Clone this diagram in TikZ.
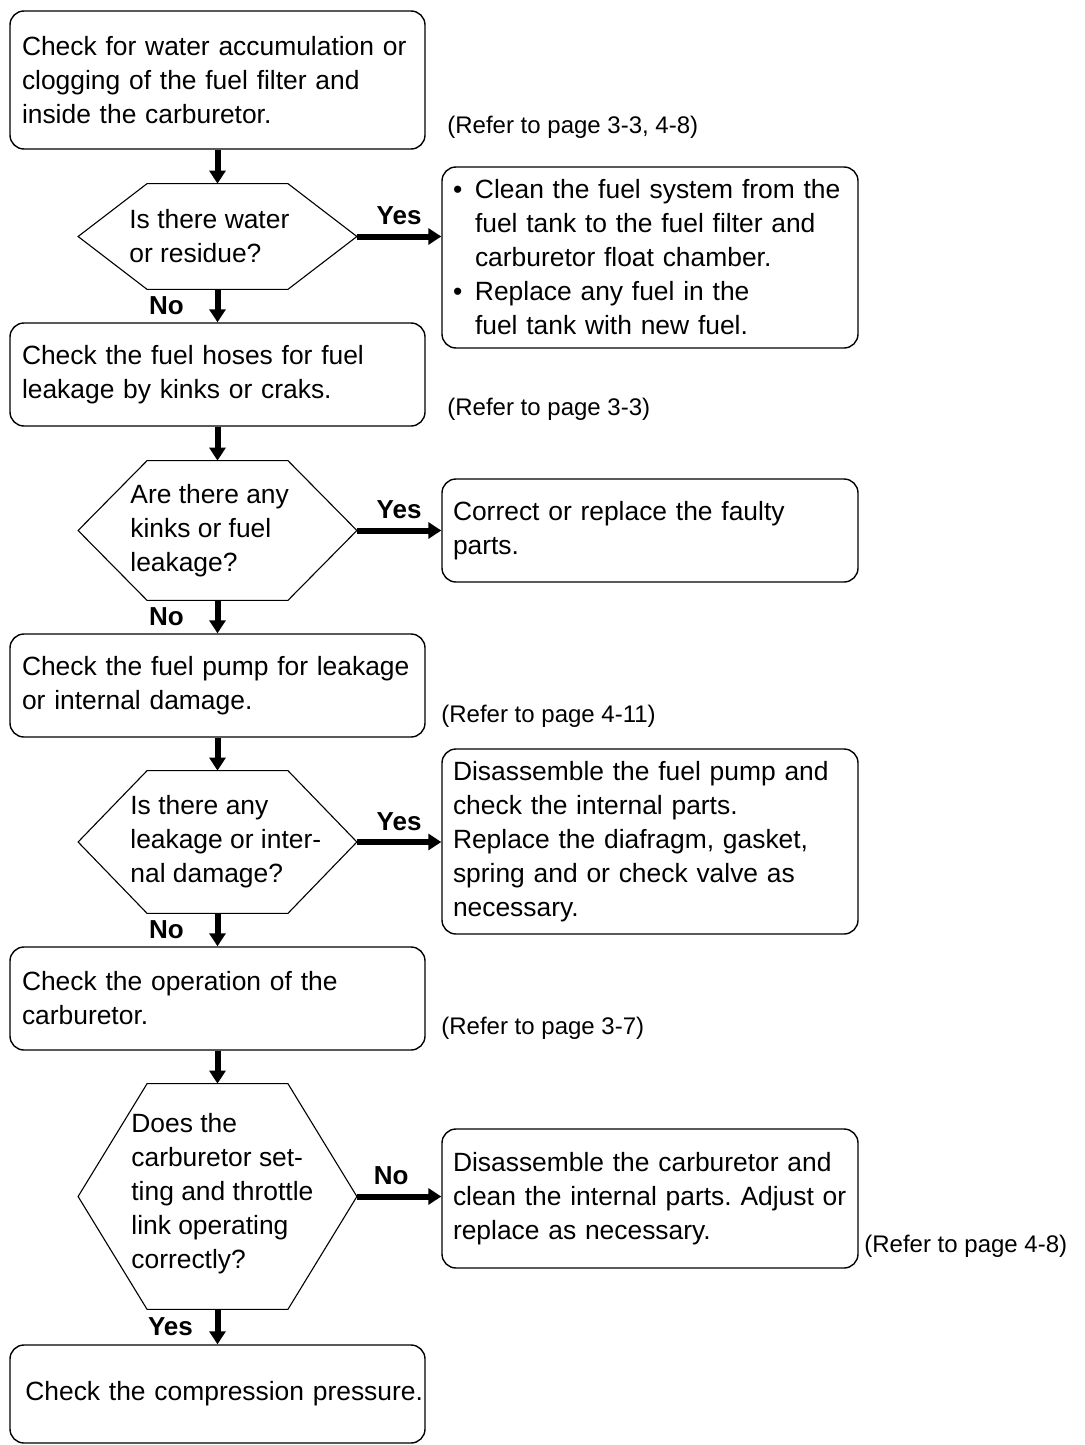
\documentclass[tikz,border=0pt]{standalone}
\usepackage{fontspec}
\setmainfont{Liberation Sans}
\usetikzlibrary{arrows.meta,positioning}
\frenchspacing
\tikzset{
  stepbox/.style={rectangle,rounded corners=7pt,draw,line width=0.7pt,align=left,inner xsep=6pt,inner ysep=0pt,text width=195.5pt,font=\fontsize{13.2}{17}\selectfont},
  fixbox/.style={stepbox,inner xsep=5.5pt,text width=197pt},
  hexbody/.style={rectangle,inner sep=0pt,minimum width=70pt},
  hexline/.style={line width=0.55pt},
  qtext/.style={align=left,inner sep=0pt,font=\fontsize{13.2}{17}\selectfont},
  note/.style={inner sep=0pt,font=\fontsize{12}{14}\selectfont},
  answer/.style={font=\fontsize{13}{14}\selectfont\bfseries},
  flowarrow/.style={line width=3pt,-{Triangle[length=6.5pt,width=8pt]}}
}
\begin{document}
\begin{tikzpicture}[x=0.5pt,y=-0.5pt]
  \useasboundingbox (0,0) rectangle (1085,1445);

  % checks on the left
  \node[stepbox,minimum height=69pt] (b1) at (217.5,80) {Check for water accumulation or\\clogging of the fuel filter and\\inside the carburetor.};
  \node[stepbox,minimum height=51.5pt] (b2) at (217.5,374.5) {Check the fuel hoses for fuel\\leakage by kinks or craks.};
  \node[stepbox,minimum height=51.5pt] (b3) at (217.5,685.5) {Check the fuel pump for leakage\\or internal damage.};
  \node[stepbox,minimum height=51.5pt] (b4) at (217.5,998.5) {Check the operation of the\\carburetor.};
  \node[stepbox,minimum height=49pt,align=right,inner xsep=1pt,text width=205.5pt] (b5) at (217.5,1394) {Check the compression pressure.};

  % questions
  \node[hexbody,minimum height=52.5pt] (q1) at (217.5,236.5) {};
  \node[hexbody,minimum height=69.5pt] (q2) at (217.5,530.5) {};
  \node[hexbody,minimum height=71pt] (q3) at (217.5,842) {};
  \node[hexbody,minimum height=112.5pt] (q4) at (217.5,1196.5) {};
  \foreach \q in {q1,q2,q3,q4}
    \draw[hexline] (\q.north west) -- (\q.north east) -- ([xshift=34.5pt]\q.east)
      -- (\q.south east) -- (\q.south west) -- ([xshift=-34.5pt]\q.west) -- cycle;
  \node[qtext,anchor=west] (q1t) at (129,236.5) {Is there water\\or residue?};
  \node[qtext,anchor=west] (q2t) at (130,530.5) {Are there any\\kinks or fuel\\leakage?};
  \node[qtext,anchor=west] (q3t) at (130,842) {Is there any\\leakage or inter-\\nal damage?};
  \node[qtext,anchor=west] (q4t) at (131,1194) {Does the\\carburetor set-\\ting and throttle\\link operating\\correctly?};

  % remedies on the right
  \node[fixbox,minimum height=90.5pt] (r1) at (650,257.5) {\makebox[11pt][l]{\textbullet}Clean the fuel system from the\\\hspace*{11pt}fuel tank to the fuel filter and\\\hspace*{11pt}carburetor float chamber.\\\makebox[11pt][l]{\textbullet}Replace any fuel in the\\\hspace*{11pt}fuel tank with new fuel.};
  \node[fixbox,minimum height=51.5pt] (r2) at (650,530.5) {Correct or replace the faulty\\parts.};
  \node[fixbox,minimum height=92.5pt] (r3) at (650,841.5) {Disassemble the fuel pump and\\check the internal parts.\\Replace the diafragm, gasket,\\spring and or check valve as\\necessary.};
  \node[fixbox,minimum height=69.5pt] (r4) at (650,1198.5) {Disassemble the carburetor and\\clean the internal parts. Adjust or\\replace as necessary.};

  % page references
  \node[note,anchor=west] (n1) at (447,127) {(Refer to page 3-3, 4-8)};
  \node[note,anchor=west] (n2) at (447,409) {(Refer to page 3-3)};
  \node[note,anchor=west] (n3) at (441,716) {(Refer to page 4-11)};
  \node[note,anchor=west] (n4) at (441,1028) {(Refer to page 3-7)};
  \node[note,anchor=west] (n5) at (864,1246) {(Refer to page 4-8)};

  % connectors
  \draw[flowarrow] (b1.south) -- (q1.north);
  \draw[flowarrow] ([xshift=34.5pt]q1.east) -- node[answer,above=1pt] {Yes} (q1.east -| r1.west);
  \draw[flowarrow] (q1.south) -- node[answer,left=12pt] {No} (b2.north);
  \draw[flowarrow] (b2.south) -- (q2.north);
  \draw[flowarrow] ([xshift=34.5pt]q2.east) -- node[answer,above=1pt] {Yes} (q2.east -| r2.west);
  \draw[flowarrow] (q2.south) -- node[answer,left=12pt] {No} (b3.north);
  \draw[flowarrow] (b3.south) -- (q3.north);
  \draw[flowarrow] ([xshift=34.5pt]q3.east) -- node[answer,above=1pt] {Yes} (q3.east -| r3.west);
  \draw[flowarrow] (q3.south) -- node[answer,left=12pt] {No} (b4.north);
  \draw[flowarrow] (b4.south) -- (q4.north);
  \draw[flowarrow] ([xshift=34.5pt]q4.east) -- node[answer,above=1pt,xshift=-4pt] {No} (q4.east -| r4.west);
  \draw[flowarrow] (q4.south) -- node[answer,left=7.5pt] {Yes} (b5.north);
\end{tikzpicture}
\end{document}
